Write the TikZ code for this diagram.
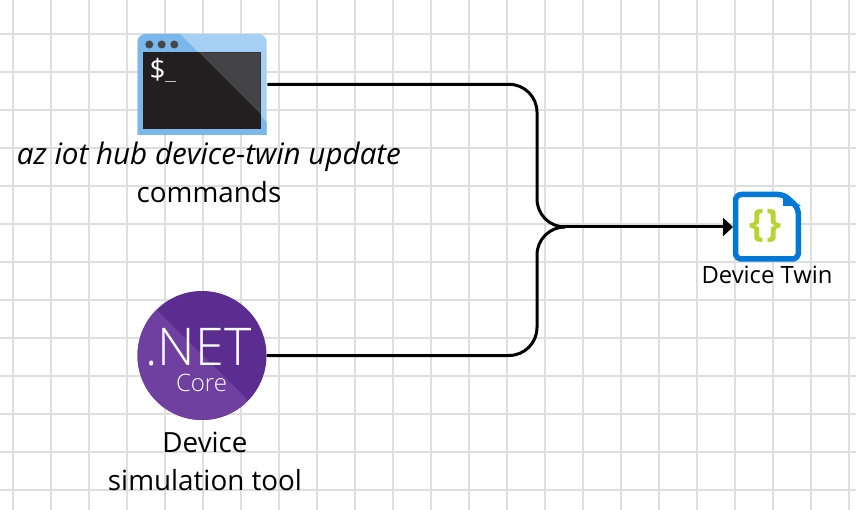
\documentclass[tikz,border=0pt]{standalone}
\usepackage{fontspec}
\setmainfont{Open Sans}
\newfontfamily\lightf{Open Sans Light}
\usetikzlibrary{arrows.meta}
\definecolor{gridc}{HTML}{DEDEDE}
\definecolor{lblue}{HTML}{A6D0F3}
\definecolor{mblue}{HTML}{7AB8EC}
\definecolor{scr}{HTML}{231F20}
\definecolor{scrl}{HTML}{444446}
\definecolor{dots}{HTML}{47474A}
\definecolor{netd}{HTML}{5C2D91}
\definecolor{netl}{HTML}{6F409F}
\definecolor{twinb}{HTML}{0078D7}
\definecolor{twing}{HTML}{B8D432}
\tikzset{
  x=1pt,y=-1pt,
  gridline/.style={gridc,line width=2pt},
  label text/.style={inner sep=0pt,anchor=base,font=\fontsize{27.8}{27.8}\selectfont,text=black},
  small label/.style={inner sep=0pt,anchor=base,font=\fontsize{23.8}{23.8}\selectfont,text=black},
  icon box/.style={inner sep=0pt,outer sep=0pt,minimum width=#1},
  conn/.style={black,line width=3pt,rounded corners=28pt},
}
\begin{document}
\begin{tikzpicture}
\useasboundingbox (0,0) rectangle (856,510);
\fill[white] (0,0) rectangle (856,510);
\foreach \gx in {13,51,...,851} \draw[gridline] (\gx,0) -- (\gx,510);
\foreach \gy in {34,72,...,510} \draw[gridline] (0,\gy) -- (856,\gy);

% terminal icon
\node[icon box=130pt,minimum height=101pt] (term) at (202.3,84.5) {};
\fill[lblue] (137.5,135) [rounded corners=8pt] -- (137.5,34) -- (266.7,34) [sharp corners] -- (266.7,135) -- cycle;
\fill[mblue] (137.5,135) [rounded corners=8pt] -- (137.5,34) [sharp corners] -- (180,34) -- (266.7,122) -- (266.7,135) -- cycle;
\fill[scr] (143.3,52.3) rectangle (260.7,129.3);
\fill[scrl] (199,52.3) -- (260.7,52.3) -- (260.7,114) -- cycle;
\foreach \dx in {149.3,161.7,174.3} \fill[dots] (\dx,44.5) circle[radius=4];
\node[inner sep=0pt,text=white,font=\fontsize{28}{28}\selectfont] (prompt) at (157.7,70) {\$};
\fill[gray!50] (164.7,81) rectangle (176,82.5);

% .NET icon
\node[circle,icon box=129pt,minimum height=129pt,fill=netd] (net) at (202,355.5) {};
\begin{scope}
  \clip (202,355.5) circle[radius=64.5];
  \fill[netl] (156.7,310) -- (246,398) -- (246,430) -- (120,430) -- (120,310) -- cycle;
\end{scope}
\node[inner sep=0pt,anchor=base,text=white,font=\lightf\fontsize{52}{52}\selectfont] (nettext) at (198.5,365) {.NET};
\node[inner sep=0pt,anchor=base,text=white,font=\lightf\fontsize{24}{24}\selectfont] (coretext) at (201.5,391) {Core};

% device twin icon
\node[icon box=69pt,minimum height=70pt] (twin) at (767.5,227) {};
\draw[twinb,line width=5.5pt,line join=round,rounded corners=6pt,fill=white] (735.5,194.5) -- (784,194.5) -- (798.3,208) -- (798.3,259) -- (735.5,259) -- cycle;
\fill[twinb] (783,194) -- (801,206) -- (783,206) -- cycle;
\node[inner sep=0pt,text=twing,font=\bfseries\fontsize{38}{38}\selectfont] (braces) at (765.5,226) {\{\kern3pt\}};

% labels
\node[label text,font=\itshape\fontsize{29.6}{29.6}\selectfont] (lab1) at (209,164.5) {az iot hub device-twin update};
\node[label text] (lab2) at (209,202.5) {commands};
\node[small label] (lab3) at (767,284) {Device Twin};
\node[label text] (lab4) at (205,452) {Device};
\node[label text] (lab5) at (205,490) {simulation tool};

% connectors
\coordinate (mid) at (537,227);
\draw[conn] (term.east |- 0,84.3) -- (537,84.3) -- (mid) -- (565,227);
\draw[conn] (net.east) -- (537,355.5) -- (mid) -- (565,227);
\draw[black,line width=3pt,-{Triangle[length=10pt,width=18pt]}] (560,227) -- (twin.west);
\end{tikzpicture}
\end{document}
